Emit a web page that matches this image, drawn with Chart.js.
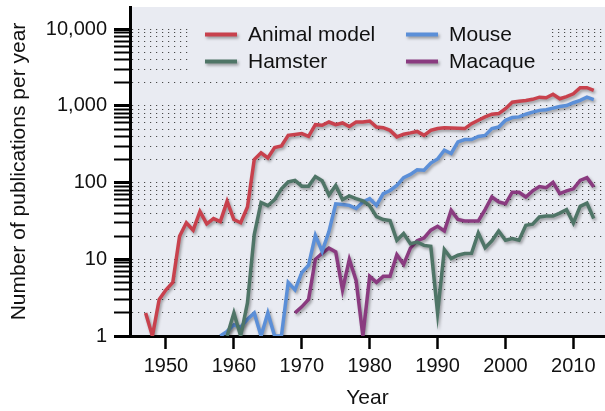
<!DOCTYPE html>
<html>
<head>
<meta charset="utf-8">
<title>Publications per year</title>
<script src="https://cdn.jsdelivr.net/npm/chart.js@4.4.1/dist/chart.umd.min.js"></script>
<style>
  html, body { margin: 0; padding: 0; background: #fff; }
  #wrap { position: relative; width: 605px; height: 411px; }
</style>
</head>
<body>
<div id="wrap"><canvas id="pubChart"></canvas></div>
<script>
// Years on the x axis (one entry per point)
const years = [
    1947, 1948, 1949, 1950, 1951, 1952, 1953, 1954, 1955, 1956,
    1957, 1958, 1959, 1960, 1961, 1962, 1963, 1964, 1965, 1966,
    1967, 1968, 1969, 1970, 1971, 1972, 1973, 1974, 1975, 1976,
    1977, 1978, 1979, 1980, 1981, 1982, 1983, 1984, 1985, 1986,
    1987, 1988, 1989, 1990, 1991, 1992, 1993, 1994, 1995, 1996,
    1997, 1998, 1999, 2000, 2001, 2002, 2003, 2004, 2005, 2006,
    2007, 2008, 2009, 2010, 2011, 2012, 2013
];

const animalModel = [
    2, 1, 3, 4, 5, 20, 30, 24, 42, 29,
    34, 31, 57, 33, 30, 48, 200, 245, 210, 287,
    300, 413, 424, 436, 402, 570, 560, 617, 570, 600,
    540, 617, 617, 635, 530, 520, 480, 395, 428, 445,
    465, 413, 480, 508, 520, 515, 510, 507, 587, 650,
    720, 780, 795, 920, 1120, 1150, 1175, 1220, 1300, 1280,
    1420, 1240, 1325, 1440, 1730, 1730, 1600
];

const hamster = [
    null, null, null, null, null, null, null, null, null, null,
    null, null, 1, 2, 1, 2.7, 21, 55, 50, 60,
    83, 102, 107, 90, 90, 120, 106, 69, 92, 60,
    67, 62, 58, 50, 36, 33, 32, 17.7, 21.7, 16,
    16.8, 15.2, 14.8, 2, 13.4, 10.2, 11.3, 11.9, 12, 22,
    14.2, 17.4, 23.4, 17.7, 18.6, 17.7, 27.8, 28.7, 35.6, 36.6,
    36.6, 40, 44.5, 29.8, 49, 54, 34
];

const mouse = [
    null, null, null, null, null, null, null, null, null, null,
    null, 1, 1.15, 1.4, 1.3, 1.65, 2, 1, 2, 1,
    1, 5, 4, 6.7, 8.4, 20.5, 12.7, 23, 53, 52,
    50.5, 46, 56, 62, 50.5, 72, 79, 92, 116, 128,
    147, 145, 180, 203, 265, 240, 340, 365, 365, 400,
    413, 508, 530, 650, 705, 720, 780, 830, 875, 890,
    935, 985, 1010, 1100, 1180, 1300, 1210
];

const macaque = [
    null, null, null, null, null, null, null, null, null, null,
    null, null, null, null, null, null, null, null, null, null,
    null, null, 2, 2.4, 3, 10, 12, 14, 12.5, 4,
    10, 5.3, 1, 6, 5, 6, 6, 11.5, 8.6, 14,
    17.5, 19, 24, 27, 23.4, 43.5, 33, 31.6, 31.6, 31.6,
    44.5, 65, 56, 53, 75, 75, 65, 78, 89, 86,
    101, 72, 78, 83, 107, 116, 88
];

const seriesNames = ['Animal model', 'Hamster', 'Mouse', 'Macaque'];
const seriesColors = ['#c8414d', '#4f7567', '#5b8fd8', '#8a3b80'];

const xTickValues = [1950, 1960, 1970, 1980, 1990, 2000, 2010];
const xTickLabels = ['1950', '1960', '1970', '1980', '1990', '2000', '2010'];
const yTickValues = [1, 10, 100, 1000, 10000];
const yTickLabels = ['1', '10', '100', '1,000', '10,000'];

const FONT = "'Liberation Sans', Arial, Helvetica, sans-serif";
const plotBg = '#e9ebf2';

function toPoints(values) {
    const pts = [];
    values.forEach((v, i) => {
        if (v !== null) pts.push({ x: years[i], y: v });
    });
    return pts;
}

// Light plot background
const backdrop = {
    id: 'backdrop',
    beforeDraw(chart) {
        const { ctx, chartArea: a } = chart;
        ctx.save();
        ctx.fillStyle = plotBg;
        ctx.fillRect(a.left, a.top, a.right - a.left, a.bottom - a.top);
        ctx.restore();
    }
};

// Legend inside the plot, on a patch that hides the dotted grid
const insetLegend = {
    id: 'insetLegend',
    beforeDatasetsDraw(chart) {
        const ctx = chart.ctx;
        ctx.save();
        ctx.fillStyle = plotBg;
        ctx.fillRect(190, 19, 360, 58);

        const slots = [[205, 34.5], [205, 61.5], [406, 34.5], [406, 61.5]];
        chart.data.datasets.forEach((ds, i) => {
            const [sx, sy] = slots[i];
            ctx.save();
            ctx.shadowColor = 'rgba(0,0,0,0.35)';
            ctx.shadowBlur = 3;
            ctx.shadowOffsetX = 1.5;
            ctx.shadowOffsetY = 2;
            ctx.strokeStyle = ds.borderColor;
            ctx.lineWidth = 4;
            ctx.beginPath();
            ctx.moveTo(sx, sy);
            ctx.lineTo(sx + 32, sy);
            ctx.stroke();
            ctx.restore();

            ctx.fillStyle = '#111';
            ctx.font = '21px ' + FONT;
            ctx.textAlign = 'left';
            ctx.textBaseline = 'alphabetic';
            ctx.fillText(ds.label, sx + 43, sy + 6.5);
        });
        ctx.restore();
    }
};

// Soft drop shadow under the lines
const lineShadow = {
    id: 'lineShadow',
    beforeDatasetsDraw(chart) {
        const c = chart.ctx;
        c.save();
        c.shadowColor = 'rgba(0,0,0,0.35)';
        c.shadowBlur = 3;
        c.shadowOffsetX = 1.5;
        c.shadowOffsetY = 2;
    },
    afterDatasetsDraw(chart) {
        chart.ctx.restore();
    }
};

const allSeries = [animalModel, hamster, mouse, macaque];

new Chart(document.getElementById('pubChart'), {
    type: 'line',
    data: {
        datasets: allSeries.map((vals, i) => ({
            label: seriesNames[i],
            data: toPoints(vals),
            borderColor: seriesColors[i],
            backgroundColor: seriesColors[i],
            borderWidth: 3.5,
            pointRadius: 0,
            tension: 0,
            fill: false
        }))
    },
    options: {
        responsive: true,
        maintainAspectRatio: false,
        animation: false,
        events: [],
        layout: { padding: { top: 7, right: 0, bottom: 0, left: 0 } },
        plugins: {
            legend: { display: false },
            tooltip: { enabled: false }
        },
        scales: {
            x: {
                type: 'linear',
                min: 1944.7,
                max: 2014.66,
                afterBuildTicks: (s) => { s.ticks = xTickValues.map(v => ({ value: v })); },
                afterFit: (s) => { s.height = 75; s.paddingLeft = 0; s.paddingRight = 0; },
                grid: {
                    drawOnChartArea: false,
                    drawTicks: true,
                    tickLength: 13,
                    tickWidth: 2.5,
                    tickColor: '#000'
                },
                border: { display: true, color: '#000', width: 3 },
                ticks: {
                    autoSkip: false,
                    maxRotation: 0,
                    padding: 5,
                    color: '#111',
                    font: { size: 20, family: FONT },
                    callback: (v) => {
                        const k = xTickValues.indexOf(v);
                        return k >= 0 ? xTickLabels[k] : '';
                    }
                },
                title: {
                    display: true,
                    text: 'Year',
                    color: '#111',
                    font: { size: 21, family: FONT },
                    padding: { top: 0, bottom: 0 }
                }
            },
            y: {
                type: 'logarithmic',
                min: 1,
                max: 19500,
                afterBuildTicks: (s) => {
                    const ticks = [];
                    yTickValues.forEach((base, i) => {
                        const top = i === yTickValues.length - 1 ? 1 : 9;
                        for (let m = 1; m <= top; m++) ticks.push({ value: base * m });
                    });
                    s.ticks = ticks;
                },
                afterFit: (s) => { s.width = 130; s.paddingTop = 0; s.paddingBottom = 0; },
                grid: {
                    color: '#4a4a4a',
                    lineWidth: 1,
                    drawTicks: true,
                    tickLength: 16,
                    tickColor: '#000',
                    tickBorderDash: [],
                    tickWidth: (c) => (c.tick && yTickValues.includes(c.tick.value)) ? 3 : 2
                },
                border: { display: true, color: '#000', width: 3, dash: [1.2, 4.8] },
                ticks: {
                    autoSkip: false,
                    padding: 7,
                    color: '#111',
                    font: { size: 20, family: FONT },
                    callback: (v) => {
                        const k = yTickValues.indexOf(v);
                        return k >= 0 ? yTickLabels[k] : '';
                    }
                },
                title: {
                    display: true,
                    text: 'Number of publications per year',
                    color: '#111',
                    font: { size: 21, family: FONT },
                    padding: { top: 7, bottom: 0 }
                }
            }
        }
    },
    plugins: [backdrop, insetLegend, lineShadow]
});
</script>
</body>
</html>
